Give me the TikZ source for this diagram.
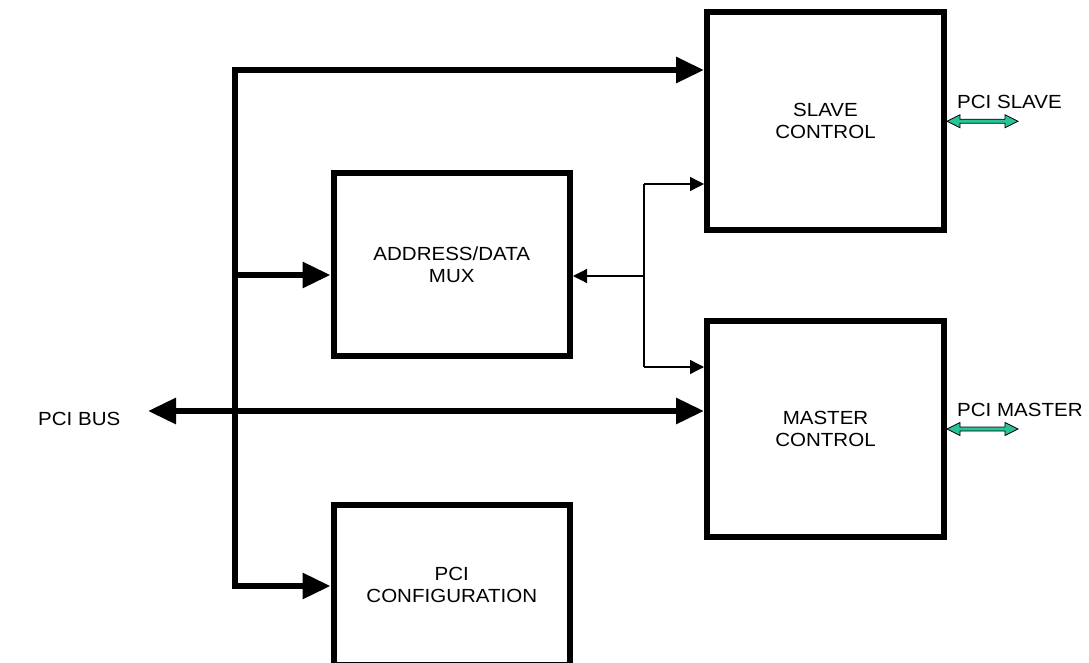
\documentclass[tikz,border=0pt]{standalone}
\usepackage{fontspec}
\setmainfont{Liberation Sans}[FakeStretch=1.08]
\usetikzlibrary{arrows.meta,calc}
\definecolor{pcigreen}{RGB}{38,196,150}
\begin{document}
\begin{tikzpicture}[x=1pt,y=-1pt,
  lbl/.style={font=\fontsize{19}{22}\selectfont, inner sep=0pt},
  blk/.style={draw, line width=6pt, rectangle, inner sep=0pt, align=center,
              font=\fontsize{19}{22}\selectfont},
  bus/.style={line width=6pt, -{Triangle[length=28pt,width=25pt]}},
  dbus/.style={line width=6pt, {Triangle[length=28pt,width=25pt]}-{Triangle[length=28pt,width=25pt]}},
  thin/.style={line width=1.3pt, -{Triangle[length=14pt,width=14pt]}},
  garrow/.style={draw=black, fill=pcigreen, line width=0.8pt, line join=miter}
]
\useasboundingbox (0,0) rectangle (1089,663);
\clip (0,0) rectangle (1089,663);

% blocks
\node[blk, minimum width=237pt, minimum height=217.5pt] (slave)  at (825.5,121.25) {SLAVE\\CONTROL};
\node[blk, minimum width=237pt, minimum height=216pt]   (master) at (825.5,429) {MASTER\\CONTROL};
\node[blk, minimum width=236.5pt, minimum height=183pt] (mux)    at (451.75,264.5) {ADDRESS/DATA\\MUX};
\node[blk, minimum width=236.5pt, minimum height=160pt] (config) at (451.75,585) {PCI\\CONFIGURATION};

% labels
\node[lbl, anchor=base west] (pcibus) at (38,425) {PCI BUS};
\node[lbl, anchor=base west] (lslave) at ($(slave.east)+(10,-13)$) {PCI SLAVE};
\node[lbl, anchor=base west] (lmaster) at ($(master.east)+(10,-13)$) {PCI MASTER};

% bus coordinates
\coordinate (btop) at (235,70);
\coordinate (bmux) at (235,275);
\coordinate (bbot) at (235,586);
\coordinate (pleft) at (148,411);

\draw[dbus] (btop -| slave.west) -- (btop) -- (bbot) -- (bbot -| config.west);
\draw[bus] (bmux) -- (bmux -| mux.west);
\draw[dbus] (pleft) -- (pleft -| master.west);

% thin connectors
\coordinate (j1) at (644,184);
\coordinate (j2) at (644,276);
\coordinate (j3) at (644,367);
\draw[line width=1.3pt] (j1) -- (j3);
\draw[thin] (j1) -- (j1 -| slave.west);
\draw[thin] (j2) -- (j2 -| mux.east);
\draw[thin] (j3) -- (j3 -| master.west);

% green double arrows
\foreach \b in {slave,master}{
  \draw[garrow] (\b.east) -- ++(13,-6.5) -- ++(0,4.5) -- ++(45,0) -- ++(0,-4.5)
     -- ++(13,6.5) -- ++(-13,6.5) -- ++(0,-4.5) -- ++(-45,0) -- ++(0,4.5) -- cycle;
}
\end{tikzpicture}
\end{document}
